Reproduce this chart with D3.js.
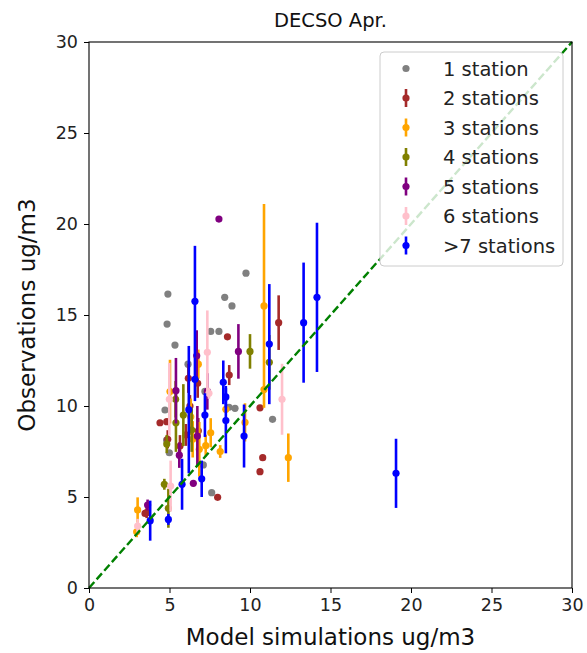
<!DOCTYPE html>
<html>
<head>
<meta charset="utf-8">
<script src="https://cdn.jsdelivr.net/npm/d3@7"></script>
<style>
  html, body { margin: 0; padding: 0; background: #fff; }
  svg { display: block; font-family: "DejaVu Sans", sans-serif; }
</style>
</head>
<body>
<svg id="chart" width="587" height="653"></svg>
<script>
// Station-count groups and their colours
const groupNames = ["1 station", "2 stations", "3 stations", "4 stations", "5 stations", "6 stations", ">7 stations"];
const groupColors = ["gray", "brown", "orange", "olive", "purple", "pink", "blue"];

// 1 station (no spread)
const g1Model = [4.9, 4.85, 5.34, 9.75, 8.43, 8.88, 7.56, 8.07, 4.72, 4.99, 8.7, 9.07, 11.4, 7.62, 7.1, 4.82, 6.15, 7.2];
const g1Obs   = [16.15, 14.5, 13.35, 17.3, 15.97, 15.5, 14.1, 14.1, 9.78, 7.43, 9.93, 9.87, 9.27, 5.24, 6.76, 8.13, 12.3, 10.8];

// 2 stations
const g2Model = [11.78, 8.6, 8.71, 10.62, 10.79, 10.62, 6.17, 6.75, 6.27, 4.41, 4.83, 6.79, 4.89, 5.65, 7.99, 3.48, 3.58, 6.02];
const g2Obs   = [14.58, 13.8, 11.7, 9.9, 7.16, 6.39, 11.52, 11.25, 10.0, 9.08, 9.14, 8.64, 8.17, 7.8, 4.98, 4.1, 4.14, 8.41];
const g2Err   = [1.5, 0, 0.55, 0, 0, 0, 0.8, 0.8, 0.6, 0, 0, 0.7, 0.5, 0.6, 0, 0, 0.3, 0.6];

// 3 stations
const g3Model = [10.87, 10.87, 8.5, 9.69, 12.38, 8.15, 6.79, 5.03, 6.32, 7.56, 6.44, 6.85, 3.02, 2.96, 7.25];
const g3Obs   = [15.5, 10.9, 9.82, 9.1, 7.16, 7.5, 12.3, 10.79, 9.41, 8.53, 8.17, 7.62, 4.29, 3.09, 7.82];
const g3Err   = [5.6, 0, 0, 1.05, 1.33, 0.35, 0.8, 1.75, 1.0, 0.8, 1.0, 1.5, 0.69, 0.3, 0.6];

// 4 stations
const g4Model = [10.0, 11.2, 5.86, 5.4, 6.38, 4.83, 4.68, 4.93, 5.38];
const g4Obs   = [13.0, 12.4, 9.5, 9.08, 8.68, 7.91, 5.7, 4.38, 10.37];
const g4Err   = [0.95, 1.5, 1.7, 1.6, 1.2, 0.5, 0.3, 1.07, 1.0];

// 5 stations
const g5Model = [8.07, 9.28, 6.69, 5.4, 6.73, 5.61, 6.48, 3.64, 7.35];
const g5Obs   = [20.27, 13.0, 12.76, 10.84, 8.35, 7.3, 5.75, 4.56, 10.8];
const g5Err   = [0, 1.5, 1.4, 1.8, 1.65, 0.7, 0, 0.3, 1.0];

// 6 stations
const g6Model = [7.35, 11.99, 4.99, 7.45, 5.07, 3.02];
const g6Obs   = [12.95, 10.37, 10.37, 10.7, 5.6, 3.4];
const g6Err   = [2.3, 1.95, 2.0, 0.3, 1.4, 0.4];

// more than 7 stations
const g7Model = [6.58, 11.2, 13.33, 14.16, 19.07, 9.63, 8.34, 8.5, 8.5, 7.2, 6.2, 6.58, 5.78, 7.0, 3.8, 4.93];
const g7Obs   = [15.75, 13.4, 14.58, 15.97, 6.3, 8.35, 11.3, 10.5, 9.2, 9.5, 9.8, 11.47, 5.7, 6.0, 3.7, 3.77];
const g7Err   = [3.05, 3.3, 3.3, 4.1, 1.9, 1.73, 1.2, 0.6, 1.8, 1.2, 3.5, 1.2, 1.4, 1.0, 1.1, 0.3];

const axisTicks = [0, 5, 10, 15, 20, 25, 30];
const titleText = "DECSO Apr.";
const xLabelText = "Model simulations ug/m3";
const yLabelText = "Observations ug/m3";

const groups = [
  { model: g1Model, obs: g1Obs, err: null },
  { model: g2Model, obs: g2Obs, err: g2Err },
  { model: g3Model, obs: g3Obs, err: g3Err },
  { model: g4Model, obs: g4Obs, err: g4Err },
  { model: g5Model, obs: g5Obs, err: g5Err },
  { model: g6Model, obs: g6Obs, err: g6Err },
  { model: g7Model, obs: g7Obs, err: g7Err }
].map((g, i) => ({
  name: groupNames[i],
  color: groupColors[i],
  points: g.model.map((m, j) => ({ x: m, y: g.obs[j], e: g.err ? g.err[j] : 0 })),
  hasErr: !!g.err
}));

const svg = d3.select("#chart");
const margin = { left: 89, top: 42, right: 15, bottom: 65 };
const W = 587, H = 653;

const x = d3.scaleLinear().domain([0, 30]).range([margin.left, W - margin.right]);
const y = d3.scaleLinear().domain([0, 30]).range([H - margin.bottom, margin.top]);

const plot = svg.append("g");

// points and vertical spread bars
groups.forEach(g => {
  const gg = plot.append("g");
  if (g.hasErr) {
    gg.selectAll("line").data(g.points.filter(p => p.e > 0)).join("line")
      .attr("x1", p => x(p.x)).attr("x2", p => x(p.x))
      .attr("y1", p => y(p.y - p.e)).attr("y2", p => y(p.y + p.e))
      .attr("stroke", g.color).attr("stroke-width", 2.6);
  }
  gg.selectAll("circle").data(g.points).join("circle")
    .attr("cx", p => x(p.x)).attr("cy", p => y(p.y)).attr("r", 3.6)
    .attr("fill", g.color);
});

// 1:1 reference line
plot.append("line")
  .attr("x1", x(0)).attr("y1", y(0)).attr("x2", x(30)).attr("y2", y(30))
  .attr("stroke", "green").attr("stroke-width", 2.4)
  .attr("stroke-dasharray", "8,3.5");

// axes
const xAxis = svg.append("g").attr("transform", `translate(0,${y(0)})`)
  .call(d3.axisBottom(x).tickValues(axisTicks).tickSize(5).tickPadding(6).tickFormat(d3.format("d")));
const yAxis = svg.append("g").attr("transform", `translate(${x(0)},0)`)
  .call(d3.axisLeft(y).tickValues(axisTicks).tickSize(5).tickPadding(6).tickFormat(d3.format("d")));
[xAxis, yAxis].forEach(a => {
  a.select(".domain").remove();
  a.selectAll("text").attr("font-size", 17.5).attr("fill", "#222").attr("font-family", "DejaVu Sans");
  a.selectAll("line").attr("stroke", "#000");
});

// frame
svg.append("rect")
  .attr("x", x(0)).attr("y", y(30))
  .attr("width", x(30) - x(0)).attr("height", y(0) - y(30))
  .attr("fill", "none").attr("stroke", "#000").attr("stroke-width", 1.1);

// titles
svg.append("text").attr("x", (x(0) + x(30)) / 2).attr("y", 20).attr("dy", "0.36em")
  .attr("text-anchor", "middle").attr("font-size", 19.5).attr("fill", "#111").text(titleText);
svg.append("text").attr("x", (x(0) + x(30)) / 2).attr("y", 637).attr("dy", "0.36em")
  .attr("text-anchor", "middle").attr("font-size", 23).attr("fill", "#111").text(xLabelText);
svg.append("text").attr("transform", `translate(27,${(y(0) + y(30)) / 2}) rotate(-90)`).attr("dy", "0.36em")
  .attr("text-anchor", "middle").attr("font-size", 23).attr("fill", "#111").text(yLabelText);

// legend
const lg = svg.append("g").attr("transform", "translate(380,52)");
lg.append("rect").attr("width", 183).attr("height", 214).attr("rx", 4)
  .attr("fill", "#fff").attr("fill-opacity", 0.8).attr("stroke", "#ccc").attr("stroke-width", 1);
groups.forEach((g, i) => {
  const row = lg.append("g").attr("transform", `translate(0,${16.5 + i * 29.5})`);
  if (g.hasErr) {
    row.append("line").attr("x1", 26).attr("x2", 26).attr("y1", -9).attr("y2", 9)
      .attr("stroke", g.color).attr("stroke-width", 2.6);
  }
  row.append("circle").attr("cx", 26).attr("cy", 0).attr("r", 3.6).attr("fill", g.color);
  row.append("text").attr("x", 63).attr("dy", "0.36em").attr("font-size", 19.5)
    .attr("fill", "#222").text(g.name);
});
</script>
</body>
</html>
